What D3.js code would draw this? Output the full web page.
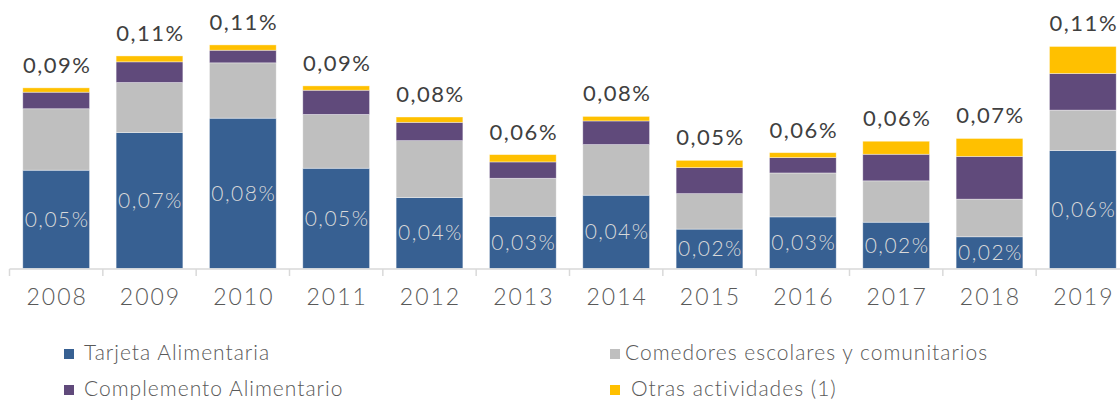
<!DOCTYPE html>
<html>
<head>
<meta charset="utf-8">
<script src="https://cdn.jsdelivr.net/npm/d3@7"></script>
<style>
  body { margin: 0; background: #fff; }
  svg { display: block; font-family: 'Lato', sans-serif; }
</style>
</head>
<body>
<div class="canvas"></div>
<script>
// years on the x axis
const years = ['2008', '2009', '2010', '2011', '2012', '2013', '2014', '2015', '2016', '2017', '2018', '2019']

// share of GDP (%) per programme
const tarjeta = [0.0499, 0.0690, 0.0763, 0.0509, 0.0360, 0.0265, 0.0372, 0.0200, 0.0262, 0.0235, 0.0161, 0.0599]
const comedores = [0.0312, 0.0254, 0.0281, 0.0273, 0.0289, 0.0193, 0.0257, 0.0180, 0.0223, 0.0210, 0.0191, 0.0205]
const complemento = [0.0084, 0.0105, 0.0064, 0.0123, 0.0093, 0.0083, 0.0120, 0.0132, 0.0078, 0.0135, 0.0217, 0.0186]
const otras = [0.0022, 0.0030, 0.0027, 0.0022, 0.0027, 0.0037, 0.0023, 0.0037, 0.0025, 0.0066, 0.0091, 0.0137]

const seriesNames = ['Tarjeta Alimentaria', 'Comedores escolares y comunitarios', 'Complemento Alimentario', 'Otras actividades (1)']
const keys = ['tarjeta', 'comedores', 'complemento', 'otras']
const colors = ['#376092', '#BFBFBF', '#604A7B', '#FFC000']

const rows = years.map((y, i) => ({
    year: y,
    tarjeta: tarjeta[i],
    comedores: comedores[i],
    complemento: complemento[i],
    otras: otras[i]
}))

const fmt = v => d3.format('.2f')(v).replace('.', ',') + '%'
const total = d => d.tarjeta + d.comedores + d.complemento + d.otras

const svg = d3.select('.canvas').append('svg')
    .attr('width', 1120)
    .attr('height', 401)

const x = d3.scaleBand()
    .domain(years)
    .range([9.5, 1129.5])
    .paddingInner(0.285)
    .paddingOuter(0.1425)

const y = d3.scaleLinear()
    .domain([0, 0.12])
    .range([268.5, 268.5 - 236.4])

const stacked = d3.stack().keys(keys)(rows)

// bars
svg.append('g').selectAll('g')
    .data(stacked)
    .join('g')
    .attr('fill', (d, i) => colors[i])
    .selectAll('rect')
    .data(d => d)
    .join('rect')
    .attr('x', d => x(d.data.year))
    .attr('width', x.bandwidth())
    .attr('y', d => y(d[1]))
    .attr('height', d => y(d[0]) - y(d[1]))
    .attr('stroke', '#fff')
    .attr('stroke-opacity', 0.5)
    .attr('stroke-width', 0.75)

// x axis: line plus ticks between categories
const axis = svg.append('g')
axis.append('line')
    .attr('x1', 9.5)
    .attr('x2', 1129.5)
    .attr('y1', 269)
    .attr('y2', 269)
    .attr('stroke', '#D9D9D9')
    .attr('stroke-width', 1.5)

const step = x.step()
axis.selectAll('.tick')
    .data(d3.range(years.length + 1))
    .join('line')
    .attr('x1', i => 9.5 + i * step)
    .attr('x2', i => 9.5 + i * step)
    .attr('y1', 269)
    .attr('y2', 276)
    .attr('stroke', '#D9D9D9')
    .attr('stroke-width', 1.5)

axis.selectAll('text')
    .data(years)
    .join('text')
    .attr('x', d => x(d) + x.bandwidth() / 2 + 1)
    .attr('y', 305)
    .attr('text-anchor', 'middle')
    .attr('fill', '#595959')
    .style('font-size', '23px')
    .style('font-weight', 300)
    .style('letter-spacing', '2px')
    .text(d => d)

// totals above bars
svg.append('g').selectAll('text')
    .data(rows)
    .join('text')
    .attr('x', d => x(d.year) + x.bandwidth() / 2 + 1)
    .attr('y', d => y(total(d)) - 15)
    .attr('text-anchor', 'middle')
    .attr('fill', '#404040')
    .style('font-size', '22px')
    .style('letter-spacing', '1.5px')
    .text(d => fmt(total(d)))

// labels inside the blue segment
svg.append('g').selectAll('text')
    .data(rows)
    .join('text')
    .attr('x', d => x(d.year) + x.bandwidth() / 2 + 1)
    .attr('y', d => y(d.tarjeta / 2))
    .attr('dy', '0.35em')
    .attr('text-anchor', 'middle')
    .attr('fill', '#D9D9D9')
    .style('font-size', '21px')
    .style('font-weight', 300)
    .style('letter-spacing', '1.5px')
    .text(d => fmt(d.tarjeta))

// legend, two columns
const legendPos = [[64, 349], [610, 349], [64, 385], [610, 385]]
const legendTextX = [84, 625, 84, 631]
const legend = svg.append('g')
legend.selectAll('rect')
    .data(seriesNames)
    .join('rect')
    .attr('x', (d, i) => legendPos[i][0])
    .attr('y', (d, i) => legendPos[i][1])
    .attr('width', 10)
    .attr('height', 10)
    .attr('fill', (d, i) => colors[i])

legend.selectAll('text')
    .data(seriesNames)
    .join('text')
    .attr('x', (d, i) => legendTextX[i])
    .attr('y', (d, i) => legendPos[i][1] + 11)
    .attr('fill', '#595959')
    .style('font-size', '21px')
    .style('font-weight', 300)
    .style('letter-spacing', '1px')
    .text(d => d)
</script>
</body>
</html>
